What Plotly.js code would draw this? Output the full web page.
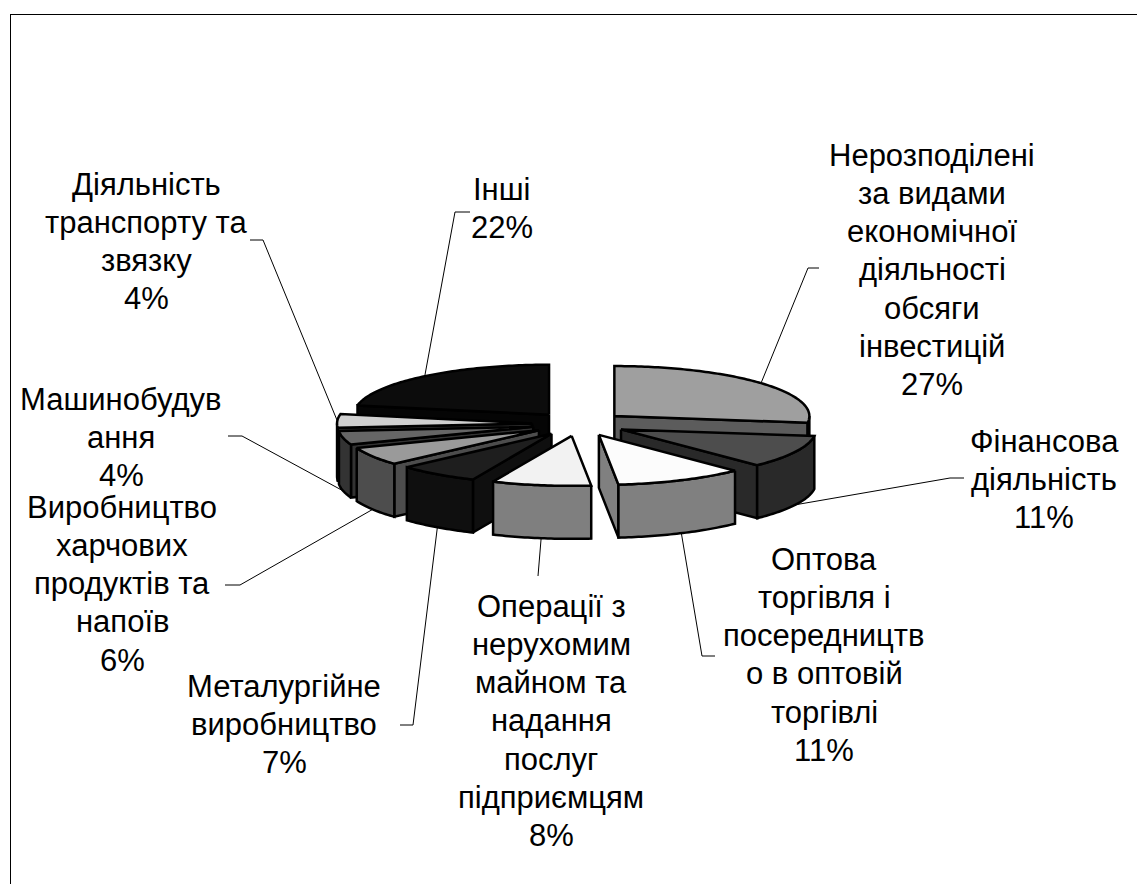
<!DOCTYPE html>
<html>
<head>
<meta charset="utf-8">
<script src="https://cdn.plot.ly/plotly-3.0.1.min.js"></script>
<style>html,body{margin:0;padding:0;background:#fff}</style>
</head>
<body>
<div id="chart" style="width:1137px;height:884px"></div>
<script>
// Data, clockwise from 12 o'clock
const categories = [
  ["Нерозподілені","за видами","економічної","діяльності","обсяги","інвестицій"],
  ["Фінансова","діяльність"],
  ["Оптова","торгівля і","посередництв","о в оптовій","торгівлі"],
  ["Операції з","нерухомим","майном та","надання","послуг","підприємцям"],
  ["Металургійне","виробництво"],
  ["Виробництво","харчових","продуктів та","напоїв"],
  ["Машинобудув","ання"],
  ["Діяльність","транспорту та","звязку"],
  ["Інші"]
];
const values = [27.1, 10.6, 10.7, 8.2, 6.7, 5.9, 4.4, 4.4, 22.0];

// Styles and layout, separate from the data
const topColors  = ["#9f9f9f","#4d4d4d","#fcfcfc","#f2f2f2","#1e1e1e","#9a9a9a","#666666","#d0d0d0","#0c0c0c"];
const sideColors = ["#5c5c5c","#292929","#808080","#7f7f7f","#0f0f0f","#4d4d4d","#333333","#333333","#050505"];
const paintOrder = [8,7,6,5,4,0,1,2,3];
const labelCenterX = [932,1044,824,551,284,122,121,146,502];
const labelFirstY  = [155,441,559,606,686,507,399,184,189];
const lineStep = 38.3;
const elbows = [
  [[819,268],[808,268]],
  [[964,478],[950,478]],
  [[715,656],[702,656]],
  [[538,576]],
  [[400,725],[413,725]],
  [[225,585],[240,585]],
  [[228,436],[242,436]],
  [[250,240],[263,240]],
  [[470,212],[455,212]]
];
const cx = 579, cy = 424, rx = 195, ry = 50, depth = 53, explodeX = 47, explodeY = 12;
const fontSize = 31;

const rad = d => d * Math.PI / 180;
const total = values.reduce((a,b) => a + b, 0);
let acc = 0;
const slices = values.map((v,i) => {
  const a = acc / total * 360; acc += v; const b = acc / total * 360; const m = (a + b) / 2;
  return {i, a, b, m, x0: cx + explodeX * Math.sin(rad(m)), y0: cy - explodeY * Math.cos(rad(m))};
});
const pt = (s, t, dz) => [s.x0 + rx * Math.sin(rad(t)), s.y0 - ry * Math.cos(rad(t)) + (dz || 0)];
const arc = (s, a, b, dz) => {
  const n = Math.max(2, Math.ceil((b - a) / 1)); const out = [];
  for (let k = 0; k <= n; k++) out.push(pt(s, a + (b - a) * k / n, dz));
  return out;
};
const traces = [];
const poly = (pts, fill) => {
  const c = pts.concat([pts[0]]);
  traces.push({type:"scatter", mode:"lines", x:c.map(p=>p[0]), y:c.map(p=>p[1]), fill:"toself",
    fillcolor:fill, line:{color:"#000", width:2.5, simplify:false}, hoverinfo:"skip", showlegend:false});
};
// leader lines end on the slice, at its mid angle; drawn first so the slices cover their ends
slices.forEach((s, i) => {
  const front = s.m > 90 && s.m < 270;
  const end = pt(s, s.m, front ? depth : 0);
  const p = elbows[i].concat([end]);
  traces.push({type:"scatter", mode:"lines", x:p.map(q=>q[0]), y:p.map(q=>q[1]),
    line:{color:"#000", width:1}, hoverinfo:"skip", showlegend:false});
});
paintOrder.forEach(idx => {
  const s = slices[idx], side = sideColors[idx];
  const apex = [s.x0, s.y0], apexB = [s.x0, s.y0 + depth];
  // radial walls that face the viewer
  if (s.a > 180 && s.a < 360) poly([apex, pt(s, s.a), pt(s, s.a, depth), apexB], side);
  if (s.b > 0 && s.b < 180) poly([apex, pt(s, s.b), pt(s, s.b, depth), apexB], side);
  // outer wall, front half only
  const wa = Math.max(s.a, 90), wb = Math.min(s.b, 270);
  if (wb > wa) poly(arc(s, wa, wb).concat(arc(s, wa, wb, depth).reverse()), side);
  // top face
  poly([apex].concat(arc(s, s.a, s.b)), topColors[idx]);
});
// labels, one annotation per line
const annotations = [];
categories.forEach((lines, i) => {
  const all = lines.concat([Math.round(values[i]) + "%"]);
  all.forEach((t, k) => annotations.push({
    x: labelCenterX[i], y: labelFirstY[i] + k * lineStep, xref:"x", yref:"y",
    text: t, showarrow:false, xanchor:"center", yanchor:"middle",
    font:{family:"Liberation Sans, Arial, sans-serif", size:fontSize, color:"#000"}
  }));
});
const layout = {
  width:1137, height:884, margin:{l:0,r:0,t:0,b:0}, paper_bgcolor:"#fff", plot_bgcolor:"#fff",
  xaxis:{range:[0,1137], visible:false, fixedrange:true},
  yaxis:{range:[884,0], visible:false, fixedrange:true},
  showlegend:false, annotations,
  shapes:[
    {type:"line", xref:"x", yref:"y", x0:10.5, x1:10.5, y0:14, y1:884, line:{color:"#000", width:1}},
    {type:"line", xref:"x", yref:"y", x0:10, x1:1137, y0:14.5, y1:14.5, line:{color:"#000", width:1}}
  ]
};
Plotly.newPlot("chart", traces, layout, {displayModeBar:false, staticPlot:true});
</script>
</body>
</html>
